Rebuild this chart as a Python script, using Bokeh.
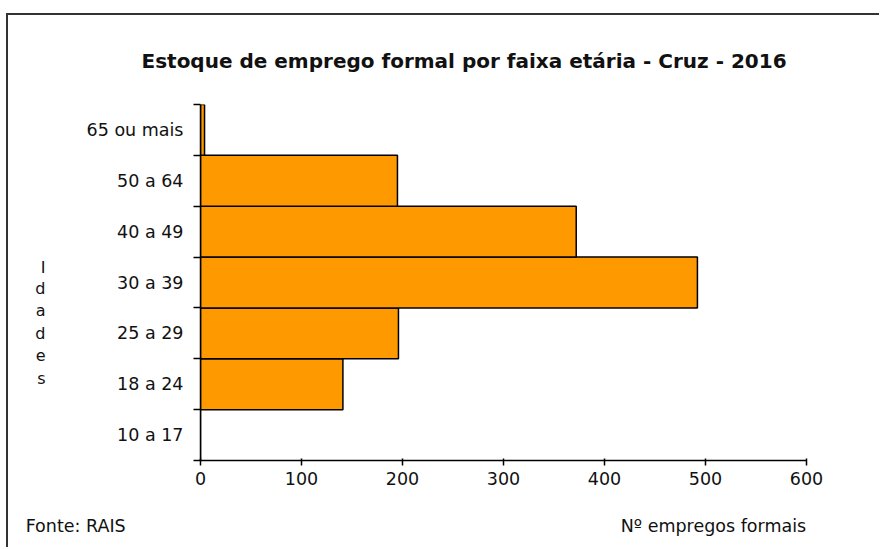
from bokeh.plotting import figure
from bokeh.models import (Range1d, FixedTicker, LinearAxis, Title, ColumnDataSource)
from bokeh.embed import file_html
from bokeh.resources import INLINE

# Data
categories = ["10 a 17", "18 a 24", "25 a 29", "30 a 39", "40 a 49", "50 a 64", "65 ou mais"]
values = [0, 141, 196, 492, 372, 195, 4]
x_ticks = [0, 100, 200, 300, 400, 500, 600]
title_text = "Estoque  de emprego formal por faixa etária - Cruz - 2016"
y_title_letters = ["I", "d", "a", "d", "e", "s"]
x_title = "Nº empregos formais"
source_text = "Fonte: RAIS"

# Page geometry (reference pixels)
OX, OY = 8, 15                      # canvas origin on the page (after CSS border)
W, H = 873, 534
PL, PT, PR, PB = 200, 103, 806, 460  # frame edges in page px
FONT = "DejaVu Sans"
INK = "#111111"

pos = list(range(len(categories)))
centers = [i + 0.5 for i in pos]
src = ColumnDataSource(dict(left=[0] * len(values), right=values,
                            bottom=pos, top=[i + 1 for i in pos]))

p = figure(width=W, height=H, output_backend="svg", toolbar_location=None,
           x_range=Range1d(0, 600), y_range=Range1d(0, len(categories)),
           min_border_left=PL - OX, min_border_right=W - (PR - OX),
           min_border_top=PT - OY, min_border_bottom=H - (PB - OY))
p.styles = {"border-top": "2px solid #333333", "border-left": "2px solid #333333",
            "margin-top": "13px", "margin-left": "6px"}
p.outline_line_color = None
p.grid.visible = False
p.background_fill_color = "white"
p.border_fill_color = "white"

p.quad(left="left", right="right", bottom="bottom", top="top", source=src,
       fill_color="#FF9900", line_color="black", line_width=1.5)

# X axis
xa = p.xaxis[0]
xa.ticker = FixedTicker(ticks=x_ticks, minor_ticks=[])
xa.axis_line_color = "black"
xa.axis_line_width = 1.5
xa.major_tick_line_color = "black"
xa.major_tick_line_width = 1.5
xa.major_tick_out = 5
xa.major_tick_in = 2
xa.minor_tick_line_color = None
xa.major_label_standoff = 6
xa.major_label_text_font = FONT
xa.major_label_text_font_size = "17.5px"
xa.major_label_text_color = INK

# Y axis: labels at band centers, ticks at band boundaries (minor)
ya = p.yaxis[0]
ya.ticker = FixedTicker(ticks=centers, minor_ticks=[float(i) for i in range(len(categories) + 1)])
ya.major_label_overrides = {c: cat for c, cat in zip(centers, categories)}
ya.axis_line_color = "black"
ya.axis_line_width = 1.5
ya.major_tick_line_color = None
ya.major_tick_out = 0
ya.major_tick_in = 0
ya.minor_tick_line_color = "black"
ya.minor_tick_line_width = 1.5
ya.minor_tick_out = 7
ya.minor_tick_in = 0
ya.major_label_standoff = 10
ya.major_label_text_font = FONT
ya.major_label_text_font_size = "17.5px"
ya.major_label_text_color = INK

# Stacked-letter y title, as a secondary axis in page-pixel units
letter_y = [266, 288, 310, 333, 355, 378]
p.extra_y_ranges = {"letters": Range1d(start=PB, end=PT)}
la = LinearAxis(y_range_name="letters",
                ticker=FixedTicker(ticks=letter_y, minor_ticks=[]),
                major_label_overrides={float(v): ch for v, ch in zip(letter_y, y_title_letters)})
la.axis_line_color = None
la.major_tick_line_color = None
la.minor_tick_line_color = None
la.major_tick_out = 0
la.major_tick_in = 0
la.major_label_standoff = 38
la.major_label_text_font = FONT
la.major_label_text_font_size = "16px"
la.major_label_text_color = INK
p.add_layout(la, "left")

# Footer row: "Fonte: RAIS" at the left and the x title at the right, one text line
# on a secondary bottom axis in page-pixel units (gap made of no-break spaces).
footer_text = source_text + "\u00a0" * 89 + x_title
footer_centre = 415.4
p.extra_x_ranges = {"foot": Range1d(PL, PR)}
fa = LinearAxis(x_range_name="foot",
                ticker=FixedTicker(ticks=[footer_centre], minor_ticks=[]),
                major_label_overrides={footer_centre: footer_text})
fa.axis_line_color = None
fa.major_tick_line_color = None
fa.minor_tick_line_color = None
fa.major_tick_out = 0
fa.major_tick_in = 0
fa.major_label_standoff = 28
fa.major_label_text_font = FONT
fa.major_label_text_font_size = "17.5px"
fa.major_label_text_color = INK
p.add_layout(fa, "below")

# Title
p.add_layout(Title(text=title_text, align="left", offset=141 - PL, standoff=63,
                   text_font=FONT, text_font_style="bold",
                   text_font_size="20px", text_color=INK), "above")

open("out.html", "w").write(file_html(p, INLINE))
